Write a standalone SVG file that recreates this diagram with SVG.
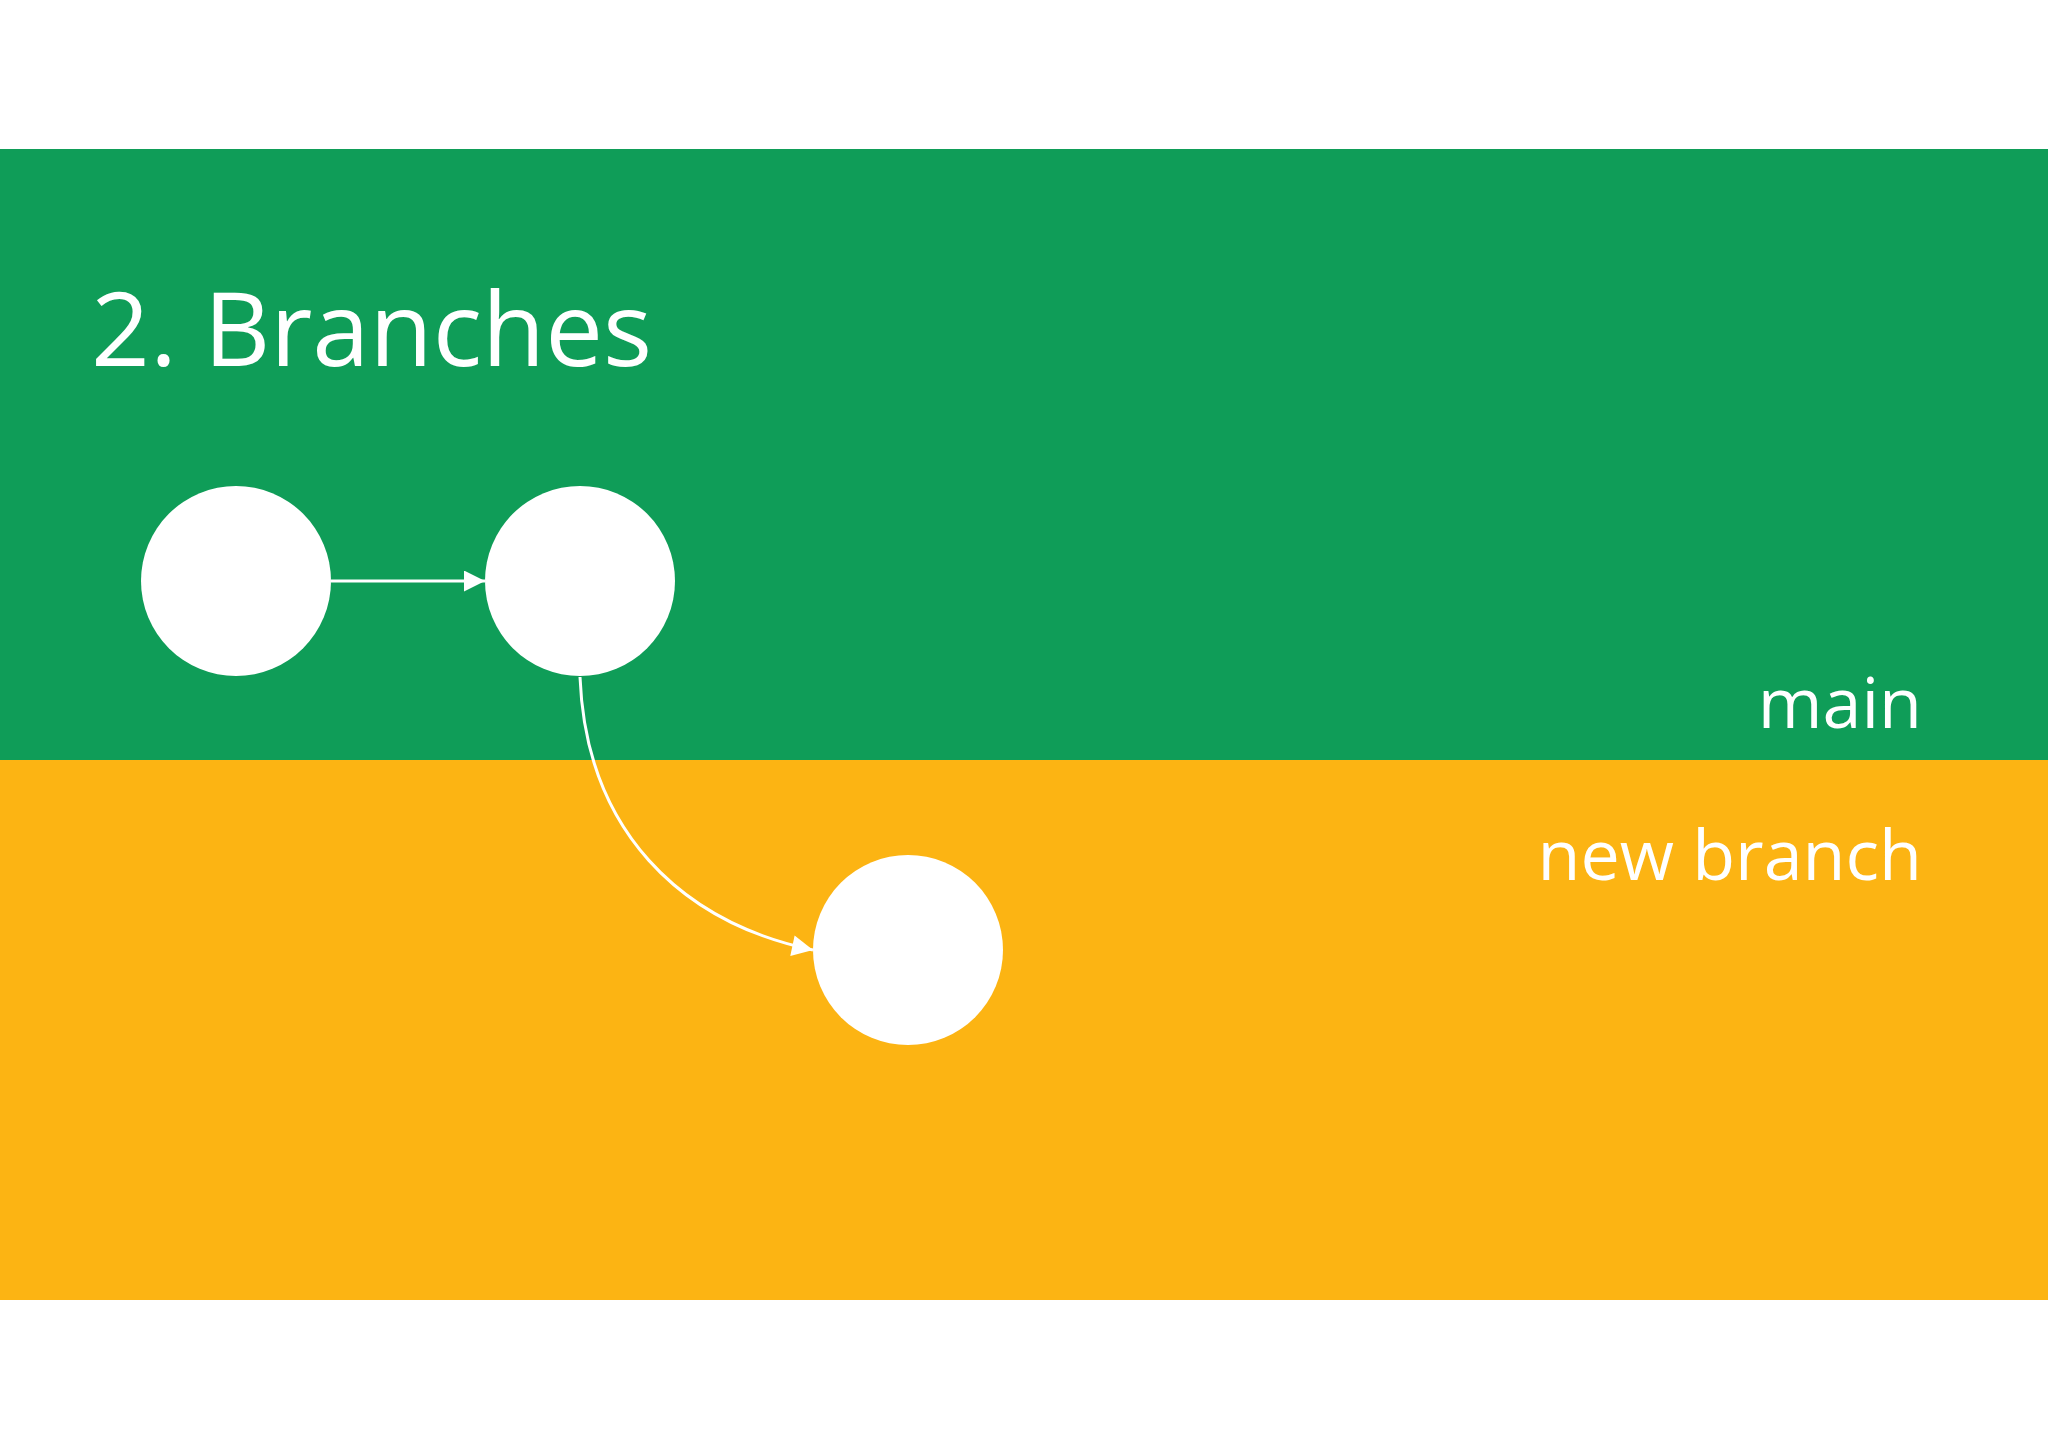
<svg xmlns="http://www.w3.org/2000/svg" width="2048" height="1448" viewBox="0 0 2048 1448">
<style>
.lbl{font-family:"Open Sans","Noto Sans","Liberation Sans",sans-serif;fill:#FFFFFF}
.node{fill:#FFFFFF}
.edge{fill:none;stroke:#FFFFFF;stroke-width:3}
</style>
<defs>
<marker id="arr" viewBox="0 0 10 10" refX="10" refY="5" markerWidth="9" markerHeight="7" markerUnits="strokeWidth" orient="auto">
<path d="M0,0 L10,5 L0,10 z" fill="#FFFFFF"/>
</marker>
</defs>
<rect x="0" y="0" width="2048" height="1448" fill="#FFFFFF"/>
<g id="lane-main">
<rect x="0" y="149" width="2048" height="611" fill="#0F9D58"/>
<text class="lbl" x="1922" y="728" font-size="70" text-anchor="end">main</text>
</g>
<g id="lane-new-branch">
<rect x="0" y="760" width="2048" height="540" fill="#FCB413"/>
<text class="lbl" x="1922" y="880" font-size="70" text-anchor="end">new branch</text>
</g>
<text class="lbl" x="91" y="366" font-size="103">2. Branches</text>
<g id="connectors">
<path class="edge" d="M331,581 L485,581" marker-end="url(#arr)"/>
<path class="edge" d="M580,677 C586,830 680,922 813,950" marker-end="url(#arr)"/>
</g>
<g id="node1"><circle class="node" cx="236" cy="581" r="95"/></g>
<g id="node2"><circle class="node" cx="580" cy="581" r="95"/></g>
<g id="node3"><circle class="node" cx="908" cy="950" r="95"/></g>
</svg>
